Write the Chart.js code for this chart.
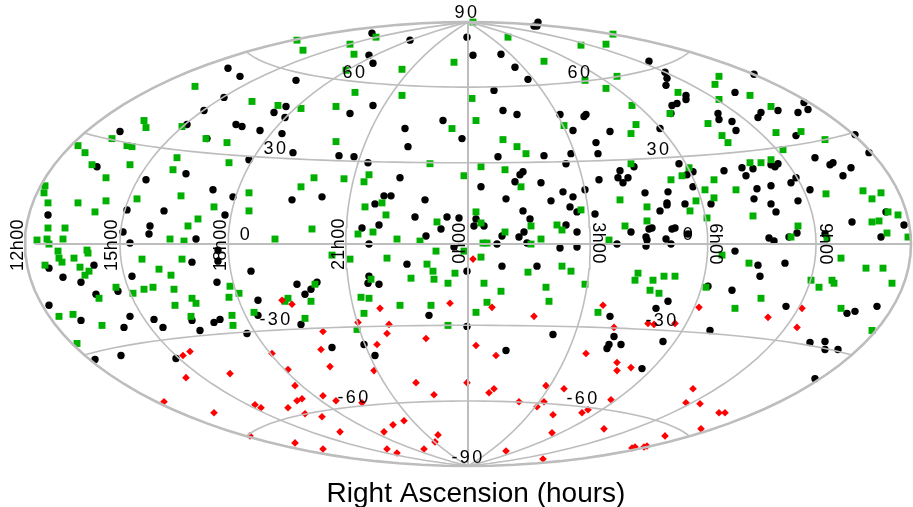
<!DOCTYPE html>
<html>
<head>
<meta charset="utf-8">
<title>Right Ascension sky map</title>
<script src="https://cdn.jsdelivr.net/npm/chart.js@4/dist/chart.umd.js"></script>
<style>
html, body { margin: 0; padding: 0; background: #fff; }
#wrap { position: relative; width: 913px; height: 507px; }
</style>
</head>
<body>
<div id="wrap"><canvas id="chart" width="913" height="507"></canvas></div>
<script>
const blackStars = [[-240,175],[-228,167],[-244,146],[-264,133],[-232,119],[-281,119],[-348,112],[-261,105],[-371,77],[-282,70],[-322,64],
[-96,210],[-58,203],[-1,206],[-99,188],[-95,180],[-172,163],[-182,137],[-194,131],[-183,126],[-95,138],[-118,130],[-226,117],[-208,113],[-186,110],[-25,123],[-63,115],[-6,105],[-60,97],[-175,91],[-219,84],[-129,88],[-114,87],[-100,81],
[70,221],[66,217],[69,217],[5,188],[33,189],[47,176],[60,164],[26,153],[181,182],[197,171],[199,165],[198,158],[218,148],[218,144],[209,140],[204,138],[203,130],[35,133],[49,129],[92,129],[118,129],[116,127],[105,113],[142,112],[192,115],[128,101],[30,87],[76,88],[103,90],[130,90],[98,80],[211,80],[166,77],[152,73],[55,72],
[286,169],[267,151],[336,141],[340,134],[330,131],[310,133],[293,131],[290,126],[250,130],[251,124],[264,122],[268,113],[328,108],[387,109],[401,91],[347,86],[365,81],[362,79],[383,76],[375,68],[310,80],[303,79],[307,77],[274,76],[285,75],[256,73],[278,68],[328,66],[323,61],[303,58],[289,55],[342,54],[225,57],[225,72],[219,69],
[-255,54],[-235,47],[-341,34],[-304,33],[-243,29],[-420,29],[-318,18],[-319,10],[-345,12],[-338,1],[-272,5],[-250,-6],[-250,-17],[-276,-18],[-374,-21],[-419,-24],[-405,-33],[-387,-38],[-336,-32],[-251,-38],[-350,-47],[-372,-50],[-419,-61],[-338,-72],[-387,-76],[-314,-75],[-344,-83],[-305,-83],[-254,-78],[-248,-75],[-268,-86],
[-68,66],[-176,44],[-146,47],[-84,48],[-77,48],[-93,40],[-43,44],[-53,27],[-21,27],[-9,26],[-27,15],[-106,16],[-89,19],[-42,8],[-99,0],[-14,-3],[-61,-20],[-1,-27],[-217,-27],[-99,-32],[-100,-39],[-89,-40],[-171,-40],[-151,-38],[-157,-45],[-163,-50],[-210,-56],[-210,-71],[-39,-71],[-167,-80],
[13,57],[52,69],[47,62],[73,61],[150,66],[160,66],[155,61],[131,64],[117,54],[95,52],[105,47],[38,45],[83,43],[177,51],[200,52],[199,41],[199,39],[217,40],[192,33],[102,37],[109,32],[55,33],[127,30],[62,25],[8,25],[6,18],[16,18],[98,19],[56,12],[109,12],[163,12],[181,15],[184,16],[204,15],[207,16],[220,10],[34,8],[51,7],[178,7],[179,4],[198,5],[59,1],[29,0],[92,-4],[109,-3],[149,0],[178,-2],[203,0],[34,-22],[69,-22],[200,-57],[188,-64],[142,-72],
[286,45],[303,40],[330,43],[243,40],[308,32],[418,32],[384,22],[436,19],[329,11],[321,7],[413,7],[301,6],[306,3],[357,10],[267,-7],[290,-21],[317,-19],[292,-32],[240,-42],[264,-46],[318,-62],[409,-62],[387,-67],[379,-69],[242,-86],[357,-97],[342,-98],[357,-105],[370,-105],[347,-134],
[-276,-76],[-221,-89],[-373,-115],[-347,-111],[-292,-114],[-1,-82],[-136,-103],[-104,-100],[-93,-111],[38,-106],[85,-90],[146,-92],[141,-100],[139,-104],[153,-100],[195,-97],[174,-124]];

const greenStars = [[-273,157],[-324,123],[-322,116],[-286,117],[-356,105],[-390,98],[-383,91],[-341,98],[-336,97],[-262,105],[-241,101],[-291,86],[-295,74],[-239,81],[-376,79],[-338,79],[-362,66],
[-171,203],[-165,193],[-118,199],[-92,206],[-114,189],[-122,173],[-66,174],[-14,181],[-113,151],[-66,148],[-216,142],[-190,138],[-167,135],[-132,137],[-132,102],[-16,115],[-38,80],
[5,221],[40,206],[113,198],[138,199],[145,209],[76,182],[117,163],[149,167],[138,155],[210,151],[4,145],[164,138],[8,123],[202,130],[168,119],[163,110],[96,118],[35,104],[49,97],[58,90],[13,77],[37,74],[163,80],[221,76],
[251,167],[247,159],[251,144],[282,148],[303,137],[240,120],[254,108],[260,101],[308,111],[333,112],[357,104],[315,94],[303,84],[293,81],[282,81],[214,68],[246,64],[237,54],[268,54],[395,53],[413,51],
[-423,58],[-424,51],[-420,41],[-390,41],[-362,43],[-373,32],[-331,45],[-287,48],[-254,37],[-270,25],[-280,18],[-420,16],[-403,16],[-431,4],[-421,5],[-405,5],[-419,0],[-298,5],[-284,3],[-410,-7],[-409,-14],[-406,-18],[-381,-6],[-380,-9],[-394,-14],[-423,-21],[-439,-25],[-388,-23],[-379,-27],[-383,-31],[-326,-15],[-286,-15],[-309,-25],[-297,-31],[-352,-43],[-335,-49],[-324,-45],[-315,-43],[-294,-45],[-238,-42],[-239,-53],[-229,-49],[-276,-54],[-272,-59],[-293,-61],[-369,-54],[-395,-70],[-409,-72],[-366,-81],[-277,-72],[-236,-71],[-235,-81],
[-219,51],[-219,33],[-167,57],[-154,66],[-124,65],[-99,69],[-104,62],[-4,68],[-103,37],[-86,41],[-82,29],[-31,22],[-95,12],[-110,10],[-156,15],[-193,5],[-71,5],[-48,3],[-32,-7],[-4,-7],[-136,-11],[-118,-15],[-81,-14],[-41,-20],[-35,-27],[-34,-35],[-13,-29],[-20,-39],[-57,-34],[-97,-35],[-153,-40],[-157,-57],[-180,-54],[-183,-57],[-107,-53],[-99,-54],[-68,-61],[-37,-61],[-214,-68],[-104,-69],[-163,-74],[-20,-81],
[53,57],[203,64],[152,44],[228,43],[222,33],[179,37],[113,34],[8,32],[13,21],[63,18],[37,12],[89,19],[94,14],[179,23],[157,18],[73,5],[63,0],[141,4],[15,1],[19,1],[13,-13],[94,-22],[103,-27],[60,-28],[16,-39],[78,-43],[33,-47],[117,-40],[81,-57],[19,-58],[8,-68],[130,-68],[170,-29],[167,-36],[185,-36],[196,-32],[207,-32],[182,-46],[191,-49],
[246,46],[239,26],[285,28],[358,50],[404,45],[420,32],[430,29],[404,22],[411,23],[419,11],[440,7],[330,18],[323,7],[359,6],[254,-11],[281,-19],[373,-14],[398,-24],[415,-24],[424,-39],[343,-36],[351,-43],[364,-36],[366,-39],[238,-43],[293,-54],[267,-64],[373,-64],[404,-86],[-391,-99],[-111,-85]];

const redStars = [[-186,-56],[-176,-60],[-88,-64],[-18,-59],[-110,-78],[-79,-80],[5,-15],[24,-63],[66,-72],[135,-61],[180,-79],[186,-80],[207,-79],[231,-63],[300,-73],[334,-64],[329,-83],
[-285,-111],[-278,-107],[-196,-109],[-238,-129],[-282,-133],[-180,-125],[-304,-157],[-254,-168],[-213,-160],[-207,-163],[-180,-163],[-218,-191],
[-145,-87],[-81,-89],[-42,-94],[-91,-100],[-147,-105],[8,-101],[28,-111],[-138,-122],[-94,-126],[-173,-141],[-52,-138],[-1,-138],[-34,-150],[21,-148],[26,-144],[-145,-151],[-132,-156],[-106,-158],[-166,-154],[-171,-156],[-163,-169],[-146,-172],[-64,-176],[-75,-180],[-84,-187],[-128,-187],[-30,-190],[-33,-197],[-173,-198],[-145,-204],[-81,-204],[-71,-208],[-44,-204],[38,-206],[51,-157],
[146,-83],[118,-109],[149,-118],[149,-126],[163,-123],[78,-141],[96,-144],[225,-144],[143,-155],[76,-157],[69,-162],[218,-158],[232,-159],[120,-165],[114,-168],[85,-170],[251,-168],[257,-168],[136,-184],[233,-184],[84,-188],[197,-191],[164,-203],[167,-202],[176,-202],[179,-201],[75,-214]];

const raLines = [-135, -90, -45, 0, 45, 90, 135];
const decLines = [60, 30, 0, -30, -60];

const decLabels = [['90',-1,230],['60',-113,170],['60',112,170],['30',-192,95],['30',191,94],['0',-222,9],['0',221,9],
    ['-30',-192,-76],['-30',194,-77],['-60',-114,-153],['-60',115,-154],['-90',0,-213]];
const raLabels = [['12h00',-450,-1,-1],['15h00',-356,-1,-1],['18h00',-247,-1,-1],['21h00',-129,0,-1],['0h00',-8,1,-1],
    ['3h00',130,1,1],['6h00',247,0,1],['9h00',357,0,1]];

const mapA = 443, mapB = 221;

// Hammer projection, only used for the graticule
function hammer(lon, lat) {
    const l = lon * Math.PI / 360, p = lat * Math.PI / 180;
    const d = Math.sqrt(1 + Math.cos(p) * Math.cos(l));
    return { x: mapA * Math.cos(p) * Math.sin(l) / d, y: mapB * Math.sin(p) / d };
}

function gridLine(data, width) {
    return {
        type: 'scatter', data: data, showLine: true, pointRadius: 0, borderColor: '#bdbdbd',
        borderWidth: width, tension: 0, order: 0, clip: false
    };
}

function meridian(lon) {
    const pts = [];
    for (let lat = -90; lat <= 90; lat += 3) pts.push(hammer(lon, lat));
    return pts;
}

function parallel(lat) {
    const pts = [];
    for (let lon = -180; lon <= 180; lon += 5) pts.push(hammer(lon, lat));
    return pts;
}

function stars(list, style, radius, color, order) {
    return {
        type: 'scatter', data: list.map(p => ({ x: p[0], y: p[1] })), pointStyle: style, pointRadius: radius,
        backgroundColor: color, borderWidth: 0, order: order, clip: false
    };
}

const datasets = [
    stars(blackStars, 'circle', 3.7, '#000000', 3),
    stars(greenStars, 'rect', 4.9, '#00b000', 2),
    stars(redStars, 'rectRot', 3.8, '#ff0000', 1)
];
raLines.forEach(lon => datasets.push(gridLine(meridian(lon), lon === 0 ? 2 : 1.6)));
decLines.forEach(lat => datasets.push(gridLine(parallel(lat), lat === 0 ? 2 : 1.6)));
datasets.push(gridLine(meridian(-180).concat(meridian(180).reverse()), 2.6));

const gridText = {
    id: 'gridText',
    afterDraw(chart) {
        const c = chart.ctx, sx = chart.scales.x, sy = chart.scales.y;
        c.save();
        c.fillStyle = '#000';
        c.textAlign = 'center';
        c.textBaseline = 'middle';
        c.font = '18px "Liberation Sans"';
        c.letterSpacing = '2.4px';
        decLabels.forEach(l => c.fillText(l[0], sx.getPixelForValue(l[1]), sy.getPixelForValue(l[2])));
        c.letterSpacing = '0.4px';
        raLabels.forEach(l => {
            c.save();
            c.translate(sx.getPixelForValue(l[1]), sy.getPixelForValue(l[2]));
            c.rotate(l[3] * Math.PI / 2);
            c.fillText(l[0], 0, 0);
            c.restore();
        });
        c.restore();
    }
};

new Chart(document.getElementById('chart'), {
    data: { datasets: datasets },
    plugins: [gridText],
    options: {
        responsive: false,
        animation: false,
        events: [],
        layout: { autoPadding: false, padding: { left: 39, right: 0, top: 0, bottom: 0 } },
        plugins: { legend: { display: false }, tooltip: { enabled: false } },
        scales: {
            x: {
                type: 'linear', min: -429, max: 445,
                grid: { display: false }, border: { display: false }, ticks: { display: false },
                title: {
                    display: true, text: 'Right Ascension (hours)', color: '#000',
                    font: { family: '"Liberation Sans"', size: 28, lineHeight: '26px' },
                    padding: { top: 11, bottom: 0 }
                }
            },
            y: { type: 'linear', display: false, min: -217, max: 243 }
        }
    }
});
</script>
</body>
</html>
